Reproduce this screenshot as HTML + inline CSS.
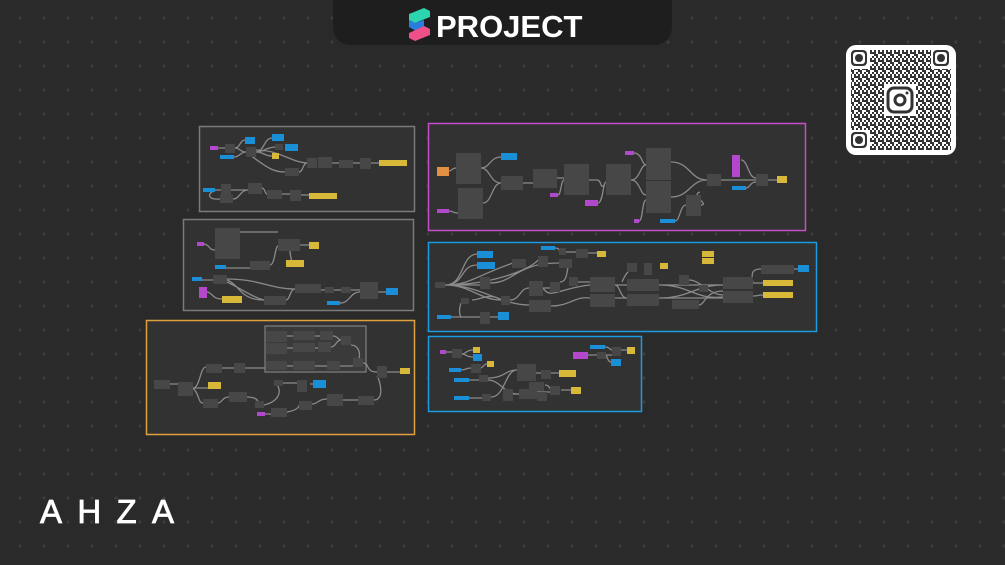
<!DOCTYPE html>
<html><head><meta charset="utf-8"><style>
html,body{margin:0;padding:0;background:#2a2a2a;}
svg{display:block}
.n{fill:#474747}
.b{fill:#1a8fd8}
.y{fill:#d8b838}
.p{fill:#b448cc}
.o{fill:#e09040}
.w{fill:none;stroke:#8a8a8a;stroke-width:1.3}
</style></head><body>
<svg width="1005" height="565" viewBox="0 0 1005 565" xmlns="http://www.w3.org/2000/svg">
<defs>
<pattern id="g" width="24" height="24" patternUnits="userSpaceOnUse" x="8" y="6">
<path d="M12 10v4M10 12h4" stroke="#404040" stroke-width="1"/>
</pattern>
<pattern id="qr" width="8" height="8" patternUnits="userSpaceOnUse">
<rect width="2" height="2" fill="#333"/><rect x="4" y="0" width="2" height="2" fill="#333"/><rect x="2" y="2" width="2" height="2" fill="#333"/><rect x="6" y="2" width="2" height="2" fill="#333"/><rect x="0" y="4" width="4" height="2" fill="#333"/><rect x="6" y="4" width="2" height="2" fill="#333"/><rect x="2" y="6" width="2" height="2" fill="#333"/><rect x="4" y="6" width="2" height="2" fill="#333"/>
</pattern>
</defs>
<rect width="1005" height="565" fill="#2a2a2a"/>
<rect width="1005" height="565" fill="url(#g)"/>

<!-- header -->
<path d="M333 0H672V25Q672 45 652 45H353Q333 45 333 25Z" fill="#1e1e1e"/>
<polygon points="409,14 424,8 430,11 430,17 415,23 409,20" fill="#2dd4b0"/>
<polygon points="409,20 415,23 424,20 424,29 418,32 409,27" fill="#2a7de0"/>
<polygon points="409,33 424,26 430,29 430,35 415,41 409,38" fill="#f0508a"/>
<text x="436" y="37" font-family="Liberation Sans, sans-serif" font-weight="bold" font-size="31" fill="#fff">PROJECT</text>

<!-- QR -->
<rect x="846" y="45" width="110" height="110" rx="10" fill="#fff"/>
<rect x="851" y="50" width="100" height="100" fill="url(#qr)"/>
<rect x="849" y="48" width="21" height="21" fill="#fff"/><rect x="931" y="48" width="21" height="21" fill="#fff"/><rect x="849" y="130" width="21" height="21" fill="#fff"/>
<g fill="#333">
<rect x="851" y="50" width="16" height="16" rx="4"/><rect x="933" y="50" width="16" height="16" rx="4"/><rect x="851" y="132" width="16" height="16" rx="4"/>
</g>
<g fill="#fff"><rect x="853" y="52" width="12" height="12" rx="3"/><rect x="935" y="52" width="12" height="12" rx="3"/><rect x="853" y="134" width="12" height="12" rx="3"/></g>
<g fill="#333"><circle cx="859" cy="58" r="4"/><circle cx="941" cy="58" r="4"/><circle cx="859" cy="140" r="4"/></g>
<rect x="884" y="84" width="32" height="32" fill="#fff"/>
<rect x="888" y="88" width="24" height="24" rx="6" fill="none" stroke="#333" stroke-width="3"/>
<circle cx="900" cy="100" r="5" fill="none" stroke="#333" stroke-width="3"/>
<circle cx="907" cy="93" r="1.5" fill="#333"/>

<!-- logo -->
<text x="40" y="523" font-family="Liberation Sans, sans-serif" font-size="33" fill="#fff" stroke="#fff" stroke-width="0.8" textLength="134" lengthAdjust="spacing">AHZA</text>

<!-- groups -->
<rect x="199.5" y="126.5" width="215" height="85" fill="#323232" stroke="#7a7a7a" stroke-width="1.5"/>
<rect x="183.5" y="219.5" width="230" height="91" fill="#323232" stroke="#7a7a7a" stroke-width="1.5"/>
<rect x="146.5" y="320.5" width="268" height="114" fill="#323232" stroke="#e0a040" stroke-width="1.5"/>
<rect x="428.5" y="123.5" width="377" height="107" fill="#323232" stroke="#c350c8" stroke-width="1.5"/>
<rect x="428.5" y="242.5" width="388" height="89" fill="#323232" stroke="#1a9ae0" stroke-width="1.5"/>
<rect x="428.5" y="336.5" width="213" height="75" fill="#323232" stroke="#1a9ae0" stroke-width="1.5"/>
<rect x="265" y="326" width="101" height="46" fill="#3a3a3a" stroke="#808080" stroke-width="1.2"/>

<!-- wires -->
<g class="w">
<path d="M218 148C222 148 222 148 225 148M235 148C240 148 240 140 245 140M235 148C240 148 240 152 246 152M256 152C264 152 264 138 272 138M256 152C264 152 264 148 275 147M256 152C264 152 264 156 272 156M256 150C280 150 290 162 307 163M250 155C270 170 275 172 285 172M299 172C303 172 303 163 307 163M332 163H339M353 163H360M371 163H379M234 157C240 157 240 152 246 152"/>
<path d="M215 190C225 190 225 190 221 190M231 190H248M262 188C265 188 265 194 267 194M282 194H290M301 195H309M215 190C205 195 210 200 220 199M233 199C240 199 240 190 248 190"/>
<path d="M203 244C210 244 208 250 215 250M240 232H278M300 245H309M290 250C290 260 295 262 286 263M226 268H250M270 265C275 265 275 246 278 246M202 280H213M227 279C260 279 270 289 295 289M227 280C240 285 240 300 264 300M207 292C212 292 212 299 222 299M227 282C240 288 250 296 264 300M286 300C290 300 290 289 295 289M321 290H325M334 290H341M351 290H360M340 303C350 303 350 292 360 292M378 292H386"/>
<path d="M170 384H178M193 388C200 388 200 367 206 367M222 368H234M245 368H265M193 388H208M193 388C200 395 198 403 203 403M218 403C222 403 222 397 229 397M247 397C260 397 260 405 255 405M264 405C285 400 280 384 274 383M283 383H297M310 384H313M265 414H271M287 412C300 410 300 404 299 404M312 404C318 404 318 399 327 399M343 400H358M374 400C385 400 380 380 377 376M387 372H400M363 363C370 363 365 372 377 372M351 345C362 345 362 364 353 362M287 336H293M315 336H320M287 348H293M315 348H318M287 366H293M315 366H327M340 366H353M333 336C338 336 338 340 341 340M331 347C336 347 336 340 341 340"/>
<path d="M449 171C452 171 452 168 456 168M481 168C490 168 490 157 501 157M481 168C490 168 490 183 501 183M483 203C492 203 492 183 501 183M449 211C453 211 453 213 458 213M523 183H533M557 178H564M558 195C561 195 561 180 564 180M589 180H597C602 180 600 190 604 185M598 203C603 203 603 182 606 182M631 180C640 180 640 165 646 165M631 180C640 180 640 195 646 195M634 153C642 153 642 165 646 165M639 221C643 221 642 200 646 200M671 162C690 162 690 180 707 180M671 197C690 197 690 180 707 180M675 221C680 221 680 205 686 205M701 205C710 205 690 195 700 192M721 180H756M741 160C748 160 748 178 756 178M746 188C750 188 750 182 756 182M768 180H777"/>
<path d="M445 285C465 285 460 255 477 254M445 285C465 285 460 265 477 265M445 285H480M445 285C470 285 480 300 501 300M445 285C480 285 500 305 529 305M445 285C470 285 475 276 513 263M445 285C490 285 530 270 538 260M490 283C515 283 515 263 559 263M451 317H480M490 317H498M464 301C460 301 458 312 461 317M472 300C480 300 490 292 501 300M510 300C520 300 520 288 529 288M543 288H550M543 288C550 300 560 288 590 285M551 306C570 306 575 296 590 298M578 282C585 282 585 282 590 282M560 282C570 282 565 262 572 262M555 248C560 248 560 252 559 252M566 252H576M588 253H597M615 285H627M615 298H627M615 285C620 285 620 298 627 298M637 267C630 267 625 275 622 282M659 285H723M659 298H723M659 285C690 285 695 300 723 297M659 298C690 298 695 285 723 285M699 305C705 305 705 291 723 291M689 280C700 280 710 295 723 295M753 283C758 283 758 283 763 283M753 296C758 296 758 295 763 295M753 283C750 270 755 269 761 269M794 269H798"/>
<path d="M446 352H452M462 354C466 354 466 350 473 350M462 354C466 354 466 357 473 357M461 370C466 370 466 368 471 368M481 368C483 368 483 364 487 364M469 380H479M469 398H482M488 378C505 378 505 370 517 370M491 397C505 397 505 370 517 370M488 380C500 380 505 395 519 394M536 373H541M551 373H559M513 394H519M537 392H550M545 385C550 385 550 390 551 390M561 390H571M605 347C610 347 610 350 612 350M588 355H597M606 355H612M621 350H627M606 355C608 360 609 362 611 362"/>
</g>

<!-- nodes: group1 -->
<rect class="p" x="210" y="146" width="8" height="4"/><rect class="n" x="225" y="144" width="10" height="9"/>
<rect class="b" x="245" y="137" width="10" height="7"/><rect class="n" x="246" y="147" width="10" height="10"/>
<rect class="b" x="272" y="134" width="12" height="7"/><rect class="n" x="275" y="144" width="8" height="6"/>
<rect class="b" x="285" y="144" width="13" height="7"/><rect class="y" x="272" y="153" width="7" height="6"/>
<rect class="b" x="220" y="155" width="14" height="4"/><rect class="n" x="285" y="168" width="14" height="8"/>
<rect class="n" x="307" y="158" width="10" height="10"/><rect class="n" x="318" y="157" width="14" height="11"/>
<rect class="n" x="339" y="160" width="14" height="8"/><rect class="n" x="360" y="158" width="11" height="11"/>
<rect class="y" x="379" y="160" width="28" height="6"/>
<rect class="b" x="203" y="188" width="12" height="4"/><rect class="n" x="221" y="184" width="10" height="11"/>
<rect class="n" x="248" y="183" width="14" height="11"/><rect class="n" x="220" y="195" width="13" height="8"/>
<rect class="n" x="267" y="190" width="15" height="9"/><rect class="n" x="290" y="190" width="11" height="11"/>
<rect class="y" x="309" y="193" width="28" height="6"/>
<!-- group2 -->
<rect class="n" x="215" y="228" width="25" height="31"/><rect class="p" x="197" y="242" width="7" height="4"/>
<rect class="n" x="278" y="239" width="22" height="12"/><rect class="y" x="309" y="242" width="10" height="7"/>
<rect class="b" x="215" y="265" width="11" height="4"/><rect class="n" x="250" y="261" width="20" height="9"/>
<rect class="y" x="286" y="260" width="18" height="7"/><rect class="b" x="192" y="277" width="10" height="4"/>
<rect class="n" x="213" y="275" width="14" height="9"/><rect class="p" x="199" y="287" width="8" height="11"/>
<rect class="y" x="222" y="296" width="20" height="7"/><rect class="n" x="264" y="296" width="22" height="9"/>
<rect class="n" x="295" y="284" width="26" height="9"/><rect class="n" x="325" y="287" width="9" height="6"/>
<rect class="n" x="341" y="287" width="10" height="6"/><rect class="n" x="360" y="282" width="18" height="17"/>
<rect class="b" x="386" y="288" width="12" height="7"/><rect class="b" x="327" y="301" width="13" height="4"/>
<!-- group3 -->
<rect class="n" x="266" y="331" width="21" height="11"/><rect class="n" x="293" y="331" width="22" height="9"/>
<rect class="n" x="320" y="331" width="13" height="9"/><rect class="n" x="341" y="336" width="10" height="9"/>
<rect class="n" x="266" y="343" width="21" height="11"/><rect class="n" x="293" y="343" width="22" height="9"/>
<rect class="n" x="318" y="342" width="13" height="10"/>
<rect class="n" x="266" y="361" width="21" height="9"/><rect class="n" x="293" y="361" width="22" height="9"/>
<rect class="n" x="327" y="361" width="13" height="9"/><rect class="n" x="353" y="358" width="10" height="9"/>
<rect class="n" x="377" y="366" width="10" height="12"/><rect class="y" x="400" y="368" width="10" height="6"/>
<rect class="n" x="206" y="364" width="16" height="9"/><rect class="n" x="234" y="363" width="11" height="10"/>
<rect class="n" x="154" y="380" width="16" height="9"/><rect class="n" x="178" y="382" width="15" height="14"/>
<rect class="y" x="208" y="382" width="13" height="7"/><rect class="n" x="203" y="399" width="15" height="9"/>
<rect class="n" x="229" y="392" width="18" height="10"/><rect class="n" x="255" y="401" width="9" height="7"/>
<rect class="n" x="274" y="380" width="9" height="6"/><rect class="n" x="297" y="380" width="10" height="12"/>
<rect class="b" x="313" y="380" width="13" height="8"/><rect class="n" x="271" y="408" width="16" height="9"/>
<rect class="p" x="257" y="412" width="8" height="4"/><rect class="n" x="299" y="401" width="13" height="9"/>
<rect class="n" x="327" y="394" width="16" height="12"/><rect class="n" x="358" y="396" width="16" height="9"/>
<!-- group4 -->
<rect class="o" x="437" y="167" width="12" height="9"/><rect class="n" x="456" y="153" width="25" height="31"/>
<rect class="b" x="501" y="153" width="16" height="7"/><rect class="n" x="501" y="176" width="22" height="14"/>
<rect class="n" x="458" y="188" width="25" height="31"/><rect class="p" x="437" y="209" width="12" height="4"/>
<rect class="n" x="533" y="169" width="24" height="19"/><rect class="n" x="564" y="164" width="25" height="31"/>
<rect class="p" x="550" y="193" width="8" height="4"/><rect class="p" x="585" y="200" width="13" height="6"/>
<rect class="n" x="606" y="164" width="25" height="31"/><rect class="p" x="625" y="151" width="9" height="4"/>
<rect class="n" x="646" y="148" width="25" height="32"/><rect class="n" x="646" y="181" width="25" height="32"/>
<rect class="p" x="634" y="219" width="5" height="4"/><rect class="b" x="660" y="219" width="15" height="4"/>
<rect class="n" x="686" y="195" width="15" height="21"/><rect class="n" x="707" y="174" width="14" height="12"/>
<rect class="p" x="732" y="155" width="8" height="22"/><rect class="b" x="732" y="186" width="14" height="4"/>
<rect class="n" x="756" y="174" width="12" height="12"/><rect class="y" x="777" y="176" width="10" height="7"/>
<!-- group5 -->
<rect class="n" x="435" y="282" width="10" height="6"/><rect class="b" x="477" y="251" width="16" height="7"/>
<rect class="b" x="477" y="262" width="18" height="7"/><rect class="b" x="541" y="246" width="14" height="4"/>
<rect class="n" x="512" y="259" width="14" height="9"/><rect class="n" x="538" y="256" width="10" height="11"/>
<rect class="n" x="559" y="248" width="7" height="7"/><rect class="n" x="576" y="249" width="12" height="9"/>
<rect class="n" x="559" y="259" width="13" height="9"/><rect class="y" x="597" y="251" width="9" height="6"/>
<rect class="n" x="480" y="277" width="10" height="12"/><rect class="n" x="461" y="298" width="8" height="6"/>
<rect class="n" x="501" y="296" width="9" height="9"/><rect class="n" x="529" y="281" width="14" height="15"/>
<rect class="n" x="550" y="282" width="10" height="10"/><rect class="n" x="569" y="277" width="9" height="9"/>
<rect class="n" x="529" y="300" width="22" height="12"/><rect class="b" x="437" y="315" width="14" height="4"/>
<rect class="n" x="480" y="312" width="10" height="12"/><rect class="b" x="498" y="312" width="11" height="8"/>
<rect class="n" x="590" y="277" width="25" height="15"/><rect class="n" x="590" y="294" width="25" height="13"/>
<rect class="n" x="627" y="263" width="10" height="9"/><rect class="n" x="644" y="263" width="8" height="12"/>
<rect class="y" x="660" y="263" width="8" height="6"/>
<rect class="n" x="627" y="279" width="32" height="12"/><rect class="n" x="627" y="294" width="32" height="12"/>
<rect class="y" x="702" y="251" width="12" height="6"/><rect class="y" x="702" y="258" width="12" height="6"/>
<rect class="n" x="672" y="300" width="27" height="9"/><rect class="n" x="679" y="275" width="10" height="10"/>
<rect class="n" x="699" y="285" width="9" height="7"/>
<rect class="n" x="723" y="277" width="30" height="12"/><rect class="n" x="723" y="291" width="30" height="12"/>
<rect class="n" x="761" y="265" width="33" height="9"/><rect class="b" x="798" y="265" width="11" height="7"/>
<rect class="y" x="763" y="280" width="30" height="6"/><rect class="y" x="763" y="292" width="30" height="6"/>
<!-- group6 -->
<rect class="p" x="440" y="350" width="6" height="4"/><rect class="n" x="452" y="349" width="10" height="9"/>
<rect class="y" x="473" y="347" width="7" height="6"/><rect class="b" x="473" y="354" width="9" height="7"/>
<rect class="n" x="471" y="364" width="10" height="9"/><rect class="y" x="487" y="361" width="7" height="6"/>
<rect class="b" x="449" y="368" width="12" height="4"/><rect class="b" x="454" y="378" width="15" height="4"/>
<rect class="n" x="479" y="375" width="9" height="7"/><rect class="b" x="454" y="396" width="15" height="4"/>
<rect class="n" x="482" y="394" width="9" height="7"/><rect class="n" x="517" y="364" width="19" height="17"/>
<rect class="n" x="541" y="370" width="10" height="9"/><rect class="y" x="559" y="370" width="17" height="7"/>
<rect class="n" x="503" y="389" width="10" height="12"/><rect class="n" x="519" y="389" width="18" height="10"/>
<rect class="n" x="529" y="382" width="15" height="9"/><rect class="n" x="537" y="392" width="10" height="9"/>
<rect class="n" x="550" y="386" width="10" height="9"/><rect class="y" x="571" y="387" width="10" height="7"/>
<rect class="b" x="590" y="345" width="15" height="4"/><rect class="p" x="573" y="352" width="15" height="7"/>
<rect class="n" x="597" y="352" width="9" height="7"/><rect class="n" x="612" y="347" width="9" height="9"/>
<rect class="y" x="627" y="347" width="8" height="7"/><rect class="b" x="611" y="359" width="10" height="7"/>
</svg>
</body></html>
